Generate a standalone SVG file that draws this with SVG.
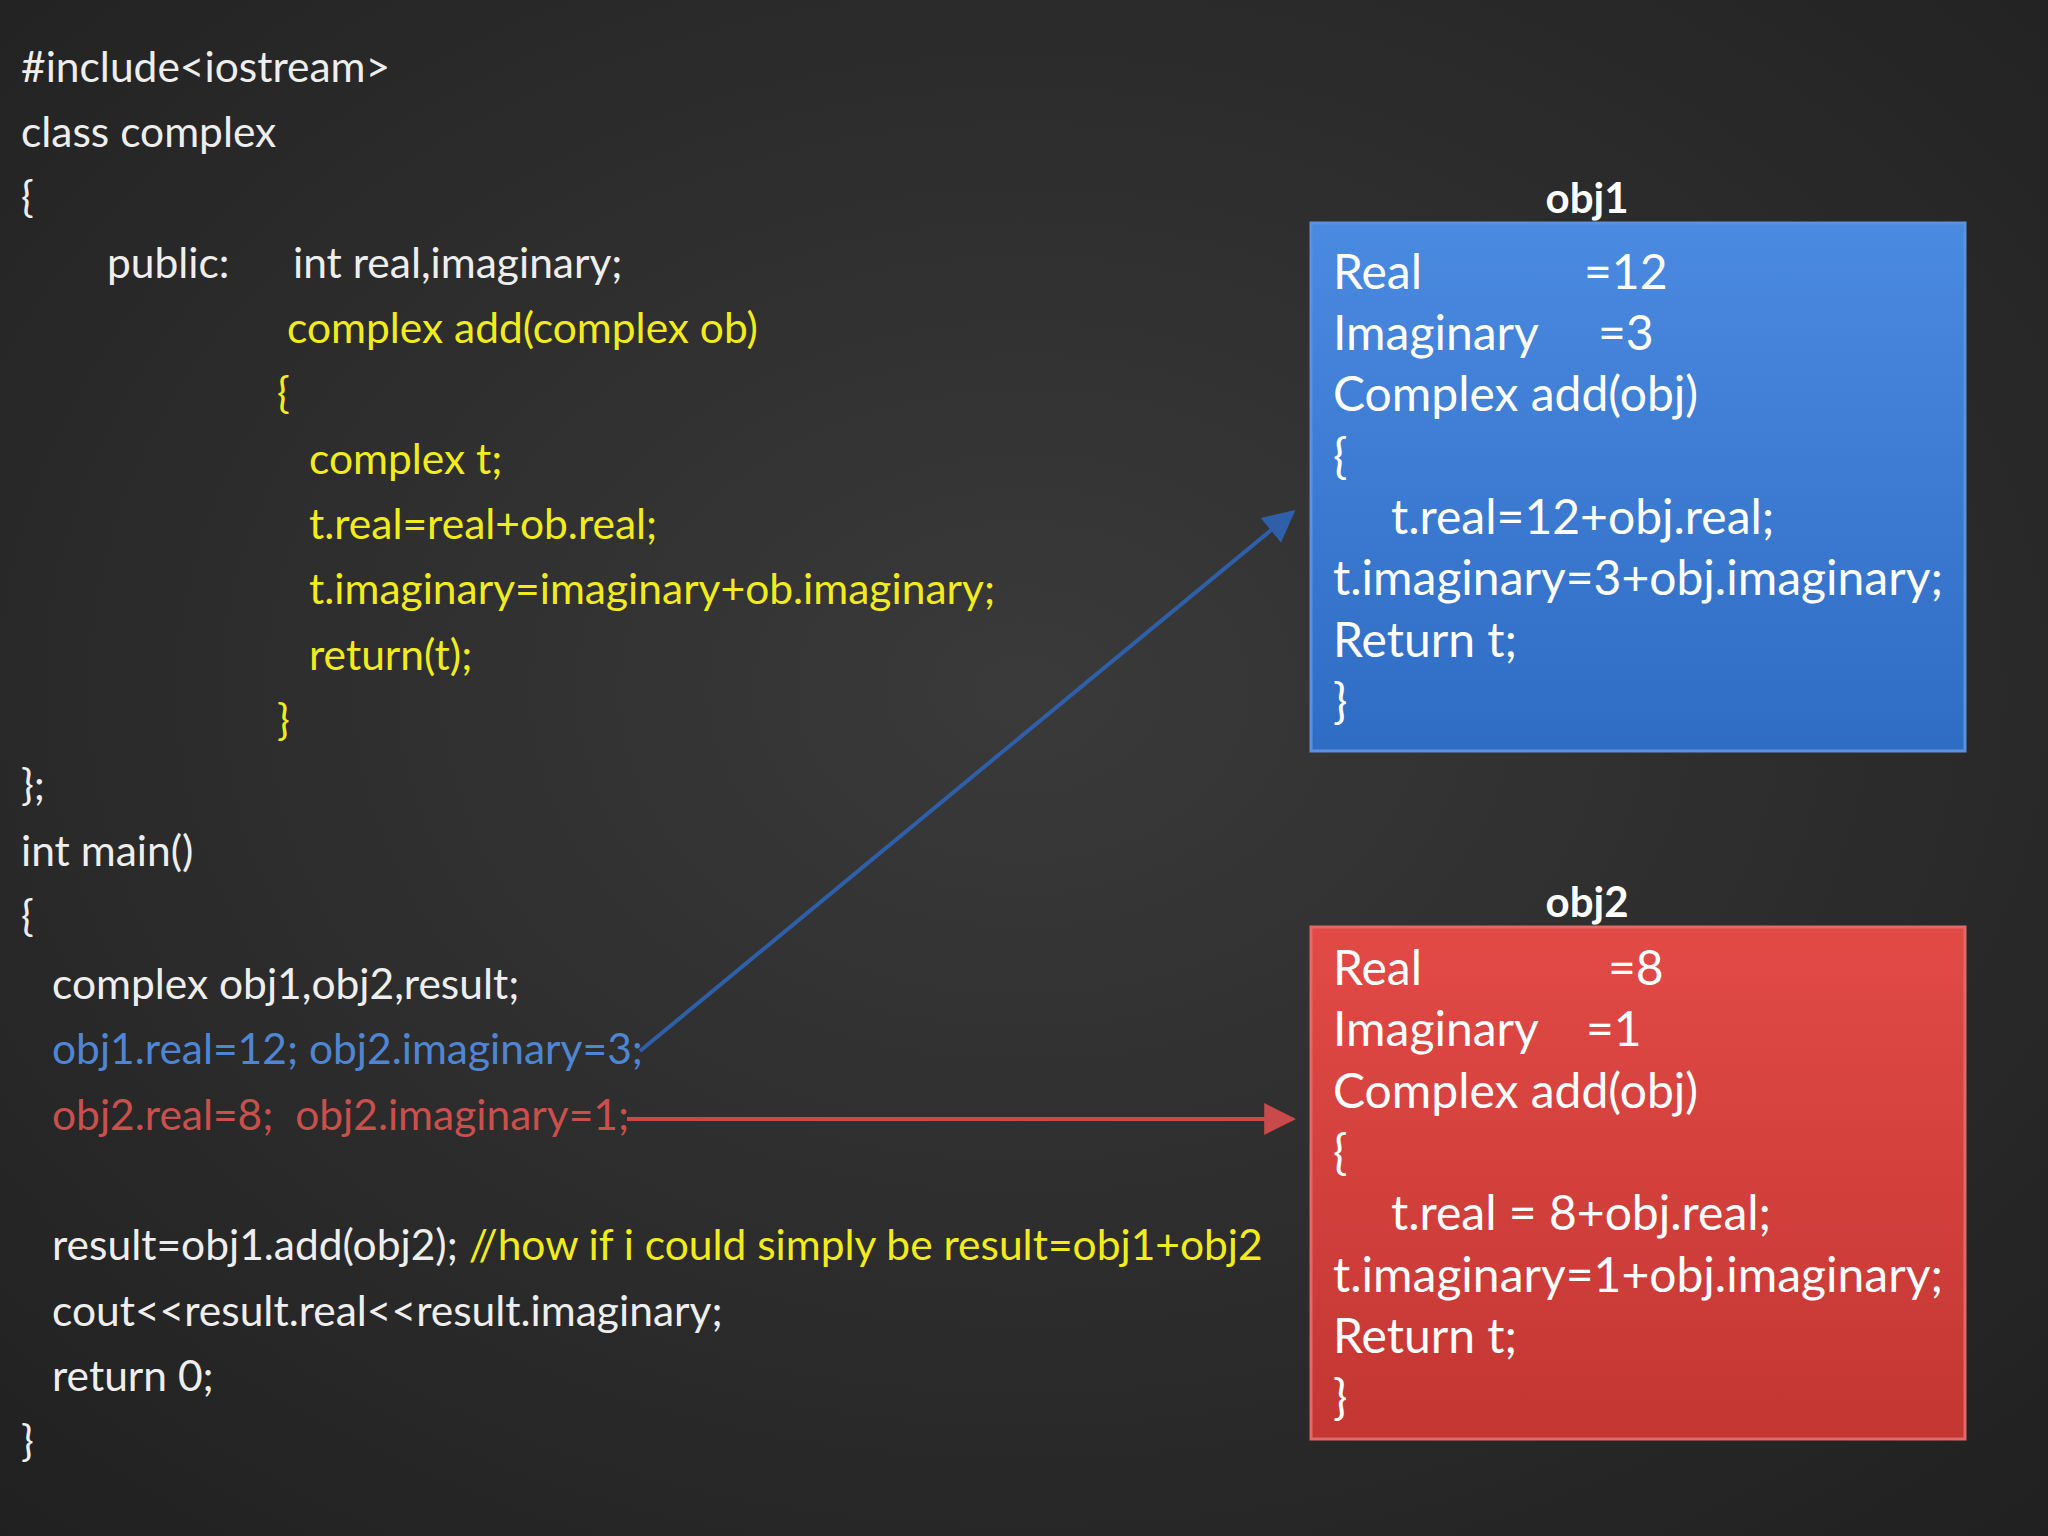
<svg xmlns="http://www.w3.org/2000/svg" width="2048" height="1536" viewBox="0 0 2048 1536">
<defs>
<radialGradient id="bg" cx="50%" cy="45%" r="75%"><stop offset="0" stop-color="#3a3a3a"/><stop offset="1" stop-color="#202020"/></radialGradient>
<linearGradient id="gb" x1="0" y1="0" x2="0" y2="1"><stop offset="0" stop-color="#4a8ae0"/><stop offset="1" stop-color="#2f6cc4"/></linearGradient>
<linearGradient id="gr" x1="0" y1="0" x2="0" y2="1"><stop offset="0" stop-color="#e24a46"/><stop offset="1" stop-color="#c33632"/></linearGradient>
<marker id="ab" viewBox="0 0 10 10" refX="9" refY="5" markerWidth="8" markerHeight="8" orient="auto"><path d="M0,0L10,5L0,10z" fill="#2f5fa8"/></marker>
<marker id="ar" viewBox="0 0 10 10" refX="9" refY="5" markerWidth="8" markerHeight="8" orient="auto"><path d="M0,0L10,5L0,10z" fill="#c84a4a"/></marker>
<style>
text{font-family:Lato,"Open Sans","Liberation Sans",sans-serif}
.c{font-size:42.5px;fill:#eeeeee}
.y{fill:#f2ec1c}.b{fill:#4f86d4}.r{fill:#c9504c}
.bx{font-size:48px;fill:#ffffff}
.t{font-size:42px;font-weight:bold;fill:#ffffff;text-anchor:middle}
</style>
</defs>
<rect width="2048" height="1536" fill="url(#bg)"/>
<g id="code" class="c">
<text x="21" y="82">#include&lt;iostream&gt;</text>
<text x="21" y="147">class complex</text>
<text x="21" y="212">{</text>
<text x="107" y="278">public:</text><text x="293" y="278">int real,imaginary;</text>
<text x="287" y="343" class="y">complex add(complex ob)</text>
<text x="277" y="408" class="y">{</text>
<text x="309" y="474" class="y">complex t;</text>
<text x="309" y="539" class="y">t.real=real+ob.real;</text>
<text x="309" y="604" class="y">t.imaginary=imaginary+ob.imaginary;</text>
<text x="309" y="670" class="y">return(t);</text>
<text x="277" y="735" class="y">}</text>
<text x="21" y="800">};</text>
<text x="21" y="866">int main()</text>
<text x="21" y="931">{</text>
<text x="52" y="999">complex obj1,obj2,result;</text>
<text x="52" y="1064" class="b">obj1.real=12; obj2.imaginary=3;</text>
<text x="52" y="1130" class="r">obj2.real=8;&#160; obj2.imaginary=1;</text>
<text x="52" y="1260">result=obj1.add(obj2); <tspan class="y">//how if i could simply be result=obj1+obj2</tspan></text>
<text x="52" y="1326">cout&lt;&lt;result.real&lt;&lt;result.imaginary;</text>
<text x="52" y="1391">return 0;</text>
<text x="21" y="1456">}</text>
</g>
<g id="connectors">
<line x1="640" y1="1051" x2="1293" y2="512" stroke="#2f5fa8" stroke-width="4" marker-end="url(#ab)"/>
<line x1="627" y1="1119" x2="1293" y2="1119" stroke="#c84a4a" stroke-width="4" marker-end="url(#ar)"/>
</g>
<g id="obj1">
<text x="1587" y="213" class="t">obj1</text>
<rect x="1311" y="223" width="654" height="528" fill="url(#gb)" stroke="#5a92dc" stroke-width="3"/>
<g class="bx">
<text x="1333" y="289">Real</text><text x="1584" y="289">=12</text>
<text x="1333" y="350">Imaginary</text><text x="1598" y="350">=3</text>
<text x="1333" y="411">Complex add(obj)</text>
<text x="1333" y="473">{</text>
<text x="1391" y="534">t.real=12+obj.real;</text>
<text x="1333" y="595">t.imaginary=3+obj.imaginary;</text>
<text x="1333" y="657">Return t;</text>
<text x="1333" y="718">}</text>
</g>
</g>
<g id="obj2">
<text x="1587" y="917" class="t">obj2</text>
<rect x="1311" y="927" width="654" height="512" fill="url(#gr)" stroke="#e06a66" stroke-width="3"/>
<g class="bx">
<text x="1333" y="985">Real</text><text x="1608" y="985">=8</text>
<text x="1333" y="1046">Imaginary</text><text x="1586" y="1046">=1</text>
<text x="1333" y="1108">Complex add(obj)</text>
<text x="1333" y="1169">{</text>
<text x="1391" y="1230">t.real = 8+obj.real;</text>
<text x="1333" y="1292">t.imaginary=1+obj.imaginary;</text>
<text x="1333" y="1353">Return t;</text>
<text x="1333" y="1414">}</text>
</g>
</g>
</svg>
